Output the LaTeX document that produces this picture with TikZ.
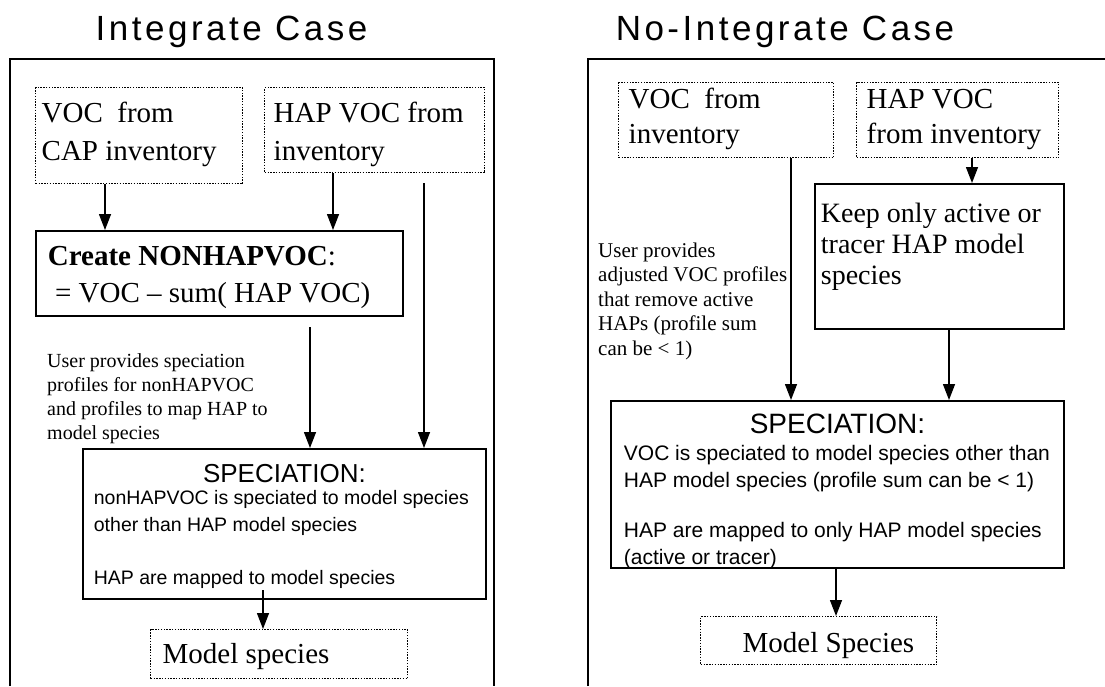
\documentclass[tikz,border=0pt]{standalone}
\usepackage{fontspec}
\setmainfont{Liberation Serif}
\setsansfont{Liberation Sans}
\newfontfamily\titlefont[LetterSpace=10]{Liberation Sans}
\usetikzlibrary{arrows.meta}
\newcommand{\boxtext}[3]{% width, height, contents
\parbox[c][#2][t]{#1}{\raggedright #3}}
\newcommand{\notetext}[2]{% width, contents
\parbox[t]{#1}{\raggedright #2}}
\tikzset{
  panel/.style={line width=1.6pt},
  dotbox/.style={draw, line width=1.4pt, dash pattern=on 1.4pt off 1.4pt, inner ysep=0pt, inner xsep=10pt, anchor=north west},
  solidbox/.style={draw, line width=1.8pt, inner ysep=0pt, inner xsep=10pt, anchor=north west},
  flow/.style={-{Triangle[length=16pt,width=12pt]}, line width=1.4pt},
  heading/.style={font=\titlefont\fontsize{35}{35}\selectfont, anchor=base, inner sep=0pt},
  note/.style={inner sep=0pt, anchor=north west}
}
\begin{document}
\begin{tikzpicture}[x=1pt,y=-1pt]
	\useasboundingbox (0,0) rectangle (1105,686);
	% integrate case
	\node[heading] (title1) at (231.5,40) {Integrate Case};
	\draw[panel] (10,686) -- (10,59) -- (494,59) -- (494,686);
	\node[dotbox, inner xsep=6pt] (voccap) at (35,87) {\boxtext{195pt}{96pt}{\fontsize{29}{37.5}\selectfont\rule{0pt}{35pt}VOC~ from\\CAP inventory}};
	\node[dotbox, inner xsep=9pt] (hapvoc) at (264,87) {\boxtext{202pt}{85pt}{\fontsize{29}{37.5}\selectfont\rule{0pt}{35pt}HAP VOC from\\inventory}};
	\node[solidbox, inner xsep=12pt] (create) at (35,230) {\boxtext{343pt}{85pt}{\fontsize{29}{37}\selectfont\rule{0pt}{35pt}\textbf{Create NONHAPVOC}:\\\ = VOC – sum( HAP VOC)}};
	\node[note] (user1) at (47,353) {\notetext{240pt}{\fontsize{20}{24}\selectfont\rule{0pt}{14pt}User provides speciation\\profiles for nonHAPVOC\\and profiles to map HAP to\\model species}};
	\node[solidbox, inner xsep=11pt] (spec1) at (82,448) {\boxtext{381pt}{150pt}{\sffamily
		{\centering\fontsize{26}{27}\selectfont\rule{0pt}{34pt}SPECIATION:\par}
		\vspace{-5pt}\fontsize{19.5}{27}\selectfont nonHAPVOC is speciated to model species\\other than HAP model species\par
		\vspace{26pt}HAP are mapped to model species}};
	\node[dotbox, inner xsep=12pt] (model1) at (150,629) {\boxtext{233pt}{49pt}{\fontsize{29}{30}\selectfont\rule{0pt}{34pt}Model species}};
	\coordinate (hapdrop) at (424,183);
	\coordinate (createdrop) at (310,327);
	\coordinate (spec1tail) at (263,590);
	\draw[flow] (voccap.south -| 105,0) -- (create.north -| 105,0);
	\draw[flow] (hapvoc.south -| 333,0) -- (create.north -| 333,0);
	\draw[flow] (hapdrop) -- (spec1.north -| hapdrop);
	\draw[flow] (createdrop) -- (spec1.north -| createdrop);
	\draw[flow] (spec1tail) -- (model1.north -| spec1tail);
	% no-integrate case
	\node[heading] (title2) at (785,40) {No-Integrate Case};
	\draw[panel] (588,686) -- (588,59) -- (1105,59);
	\node[dotbox] (voc2) at (618,82) {\boxtext{195pt}{75pt}{\fontsize{29}{35}\selectfont\rule{0pt}{26pt}VOC~ from\\inventory}};
	\node[dotbox] (hapvoc2) at (856,82) {\boxtext{182pt}{75pt}{\fontsize{29}{35}\selectfont\rule{0pt}{26pt}HAP VOC\\from inventory}};
	\node[solidbox, inner xsep=6pt] (keep) at (814,183) {\boxtext{237pt}{145pt}{\fontsize{28}{31}\selectfont\rule{0pt}{39pt}Keep only active or\\tracer HAP model\\species}};
	\node[note] (user2) at (598,242) {\notetext{200pt}{\fontsize{21}{24.5}\selectfont\rule{0pt}{15pt}User provides\\adjusted VOC profiles\\that remove active\\HAPs (profile sum\\can be < 1)}};
	\node[solidbox, inner xsep=13pt] (spec2) at (610,400) {\boxtext{427pt}{167pt}{\sffamily
		{\centering\fontsize{28}{27}\selectfont\rule{0pt}{33pt}SPECIATION:\par}
		\fontsize{21}{27}\selectfont VOC is speciated to model species other than\\HAP model species (profile sum can be < 1)\par
		\vspace{23pt}HAP are mapped to only HAP model species\\(active or tracer)}};
	\node[dotbox] (model2) at (700,616) {\boxtext{216pt}{48pt}{\fontsize{29}{30}\selectfont\rule{0pt}{36pt}\hspace*{32pt}Model Species}};
	\draw[flow] (voc2.south -| 791,0) -- (spec2.north -| 791,0);
	\draw[flow] (hapvoc2.south -| 972,0) -- (keep.north -| 972,0);
	\draw[flow] (keep.south -| 949,0) -- (spec2.north -| 949,0);
	\draw[flow] (spec2.south -| 836,0) -- (model2.north -| 836,0);
\end{tikzpicture}
\end{document}
